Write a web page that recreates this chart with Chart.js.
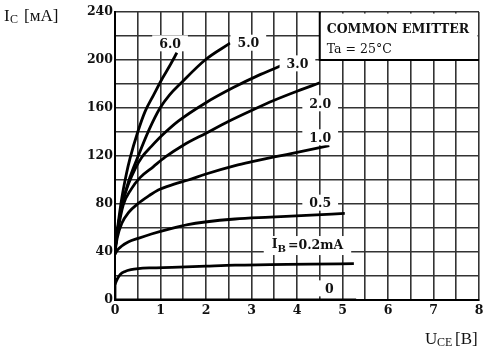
<!DOCTYPE html>
<html>
<head>
<meta charset="utf-8">
<script src="https://cdn.jsdelivr.net/npm/chart.js@4.4.1/dist/chart.umd.min.js"></script>
<style>
  html, body { margin: 0; padding: 0; background: #fff; }
  #wrap { width: 490px; height: 351px; }
</style>
</head>
<body>
<div id="wrap"><canvas id="chart"></canvas></div>
<script>
// collector current Ic [mA] vs Uce [V], one curve per base current
const curveIb60 = [[0, 42], [0.05, 58], [0.15, 85], [0.25, 105], [0.33, 118], [0.5, 140], [0.66, 157], [0.85, 171], [1.03, 184], [1.2, 195], [1.36, 206]];
const curveIb50 = [[0, 42], [0.05, 57], [0.15, 78], [0.3, 99], [0.51, 120], [0.75, 142], [0.99, 160], [1.2, 171], [1.43, 180], [1.98, 200], [2.53, 214]];
const curveIb30 = [[0, 42], [0.05, 56], [0.15, 79], [0.3, 97], [0.45, 110], [0.59, 119], [0.8, 128], [1.03, 137], [1.39, 149], [1.98, 164], [2.6, 177], [3.2, 188], [3.7, 196]];
const curveIb20 = [[0, 42], [0.05, 55], [0.18, 79], [0.35, 92], [0.55, 102], [0.84, 111], [1.1, 119], [1.5, 129], [2.0, 139], [2.5, 149], [3.0, 158], [3.5, 166.5], [4.0, 174], [4.5, 181]];
const curveIb10 = [[0, 40], [0.05, 52], [0.15, 64], [0.3, 73], [0.51, 80.5], [0.75, 87], [0.95, 91.7], [1.3, 96.5], [1.61, 100], [2.0, 105], [2.64, 112], [3.04, 115.5], [3.5, 119.2], [4.0, 123], [4.71, 128.6]];
const curveIb05 = [[0, 38], [0.05, 41.5], [0.15, 45], [0.3, 48.5], [0.51, 51.4], [0.8, 55], [1.25, 59.7], [1.6, 62.8], [1.98, 65], [2.64, 67.5], [3.41, 69], [4.2, 70.5], [5.05, 72.2]];
const curveIb02 = [[0, 13], [0.05, 17.5], [0.12, 21.5], [0.22, 23.8], [0.35, 25.3], [0.51, 26.2], [0.8, 26.8], [1.25, 27.2], [2.0, 28.2], [2.64, 29], [3.41, 29.4], [4.3, 29.9], [5.25, 30.3]];
const curveIb00 = [[0, 15], [0, 0], [5.3, 0]];

const curveLabels = ["6.0", "5.0", "3.0", "2.0", "1.0", "0.5", "0"];
const curveLabelU = [1.21, 2.93, 4.01, 4.51, 4.51, 4.51, 4.71];
const curveLabelI = [213.9, 214.4, 197.2, 163.9, 135.6, 81.1, 9.7];
const ibLabelU = 4.23, ibLabelI = 45.8;

const xTicks = [0, 1, 2, 3, 4, 5, 6, 7, 8];
const yTicks = [0, 40, 80, 120, 160, 200, 240];

const serif = '"DejaVu Serif", serif';
const toPts = arr => arr.map(p => ({ x: p[0], y: p[1] }));

function curve(data, smooth) {
    return {
        data: toPts(data),
        showLine: true,
        borderColor: "#000",
        borderWidth: 2.8,
        pointRadius: 0,
        cubicInterpolationMode: smooth ? "monotone" : "default",
        tension: smooth ? 0.4 : 0,
        fill: false
    };
}

// white box, curve labels, axis titles
const overlay = {
    id: "overlay",
    beforeDatasetsDraw(chart) {
        const { ctx, scales: { x, y } } = chart;
        const l = x.getPixelForValue(4.5), r = x.getPixelForValue(8);
        const t = y.getPixelForValue(240), b = y.getPixelForValue(200);
        ctx.save();
        ctx.fillStyle = "#fff";
        ctx.fillRect(l, t + 1.5, r - l - 1.5, b - t - 1.5);
        ctx.strokeStyle = "#000";
        ctx.lineWidth = 2;
        ctx.beginPath();
        ctx.moveTo(l, t);
        ctx.lineTo(l, b);
        ctx.lineTo(r, b);
        ctx.stroke();
        ctx.fillStyle = "#111";
        ctx.font = "bold 12.5px " + serif;
        ctx.textBaseline = "alphabetic";
        ctx.fillText("COMMON EMITTER", l + 7, t + 21);
        ctx.font = "12.5px " + serif;
        ctx.fillText("Ta = 25°C", l + 7, t + 41);
        ctx.restore();
    },
    afterDatasetsDraw(chart) {
        const { ctx, scales: { x, y } } = chart;
        ctx.save();
        ctx.font = "bold 12.5px " + serif;
        ctx.textAlign = "center";
        ctx.textBaseline = "middle";
        curveLabels.forEach((txt, i) => {
            const px = x.getPixelForValue(curveLabelU[i]);
            const py = y.getPixelForValue(curveLabelI[i]);
            const w = ctx.measureText(txt).width;
            ctx.fillStyle = "#fff";
            ctx.fillRect(px - w / 2 - 7, py - 8, w + 14, 16);
            ctx.fillStyle = "#111";
            ctx.fillText(txt, px, py + 1);
        });
        // I_B = 0.2mA
        const px = x.getPixelForValue(ibLabelU), py = y.getPixelForValue(ibLabelI);
        ctx.textAlign = "left";
        const big = "bold 12.5px " + serif, small = "bold 10px " + serif;
        const wI = ctx.measureText("I").width;
        ctx.font = small;
        const wB = ctx.measureText("B").width;
        ctx.font = big;
        const rest = "=0.2mA";
        const wR = ctx.measureText(rest).width;
        const total = wI + wB + wR + 2;
        const sx = px - total / 2;
        ctx.fillStyle = "#fff";
        ctx.fillRect(sx - 8, py - 9, total + 16, 19);
        ctx.fillStyle = "#111";
        ctx.fillText("I", sx, py);
        ctx.font = small;
        ctx.fillText("B", sx + wI, py + 4);
        ctx.font = big;
        ctx.fillText(rest, sx + wI + wB + 2, py + 1);
        ctx.restore();
    },
    afterDraw(chart) {
        const { ctx } = chart;
        ctx.save();
        ctx.fillStyle = "#111";
        ctx.textBaseline = "alphabetic";
        ctx.font = "17px 'Liberation Serif', serif";
        ctx.fillText("I", 4, 21);
        ctx.font = "12px 'Liberation Serif', serif";
        ctx.fillText("C", 10, 23);
        ctx.font = "17px 'Liberation Serif', serif";
        ctx.fillText("[мА]", 24, 21);
        ctx.fillText("U", 425, 344);
        ctx.font = "12px 'Liberation Serif', serif";
        ctx.fillText("CE", 437, 346);
        ctx.font = "17px 'Liberation Serif', serif";
        ctx.fillText("[В]", 455, 344);
        ctx.restore();
    }
};

new Chart(document.getElementById("chart"), {
    type: "scatter",
    data: {
        datasets: [
            curve(curveIb60, true),
            curve(curveIb50, true),
            curve(curveIb30, true),
            curve(curveIb20, true),
            curve(curveIb10, true),
            curve(curveIb05, true),
            curve(curveIb02, true),
            curve(curveIb00, false)
        ]
    },
    options: {
        responsive: true,
        maintainAspectRatio: false,
        animation: false,
        layout: { padding: { top: 12, right: 11, left: 0, bottom: 0 } },
        plugins: { legend: { display: false }, tooltip: { enabled: false } },
        scales: {
            x: {
                type: "linear",
                min: 0,
                max: 8,
                afterFit: s => { s.height = 51; },
                ticks: {
                    stepSize: 0.5,
                    autoSkip: false,
                    maxRotation: 0,
                    padding: 3,
                    color: "#111",
                    font: { family: serif, size: 12.5, weight: "bold" },
                    callback: v => xTicks.includes(v) ? String(v) : ""
                },
                grid: { color: "#333", lineWidth: 1.6, drawTicks: false },
                border: { color: "#000", width: 2 }
            },
            y: {
                type: "linear",
                min: 0,
                max: 240,
                afterFit: s => { s.width = 115; },
                ticks: {
                    stepSize: 20,
                    autoSkip: false,
                    padding: 2,
                    color: "#111",
                    font: { family: serif, size: 12.5, weight: "bold" },
                    callback: v => yTicks.includes(v) ? String(v) : ""
                },
                grid: { color: "#333", lineWidth: 1.6, drawTicks: false },
                border: { color: "#000", width: 2 }
            }
        }
    },
    plugins: [overlay]
});
</script>
</body>
</html>
